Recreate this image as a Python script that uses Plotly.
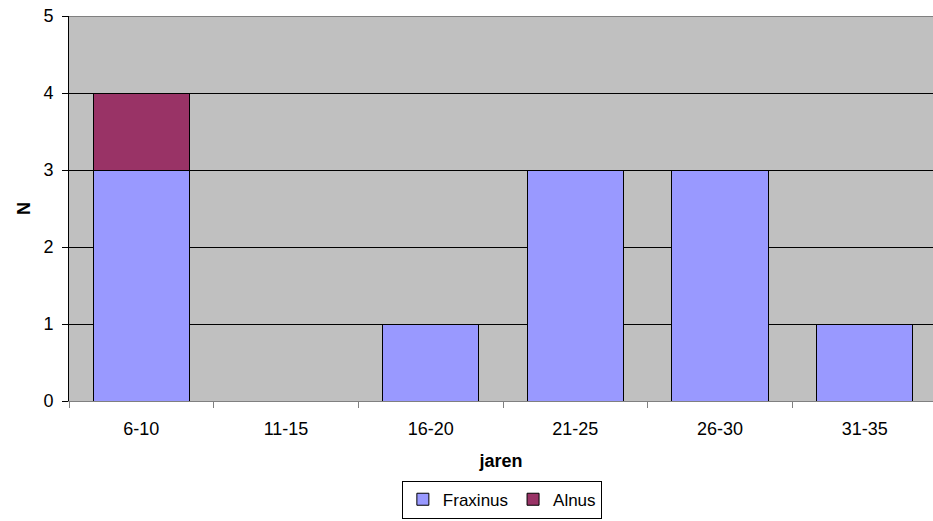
import plotly.graph_objects as go

# Age classes (years) and counts per genus
age_classes = ["6-10", "11-15", "16-20", "21-25", "26-30", "31-35"]
fraxinus = [3, 0, 1, 3, 3, 1]
alnus = [1, 0, 0, 0, 0, 0]
y_ticks = [0, 1, 2, 3, 4, 5]

font_family = "Liberation Sans, Arial, sans-serif"

fig = go.Figure()
fig.add_trace(go.Bar(
    name="Fraxinus", x=age_classes, y=fraxinus,
    marker=dict(color="#9999FF", line=dict(color="#000000", width=1)),
))
fig.add_trace(go.Bar(
    name="Alnus", x=age_classes, y=alnus,
    marker=dict(color="#993366", line=dict(color="#000000", width=1)),
))

# Plot area extends past the right window edge, so the last category is cut off
fig.update_layout(
    width=933, height=521,
    margin=dict(l=69, r=0, t=16, b=120, autoexpand=False),
    barmode="stack",
    bargap=0.335,
    paper_bgcolor="#FFFFFF",
    plot_bgcolor="#C0C0C0",
    font=dict(family=font_family, size=18, color="#000000"),
    showlegend=True,
    legend=dict(
        orientation="h",
        traceorder="normal",
        x=0.501, xanchor="center",
        y=-0.207, yanchor="top",
        bordercolor="#000000", borderwidth=1,
        bgcolor="#FFFFFF",
        font=dict(size=17),
        itemwidth=30,
        tracegroupgap=0,
    ),
    xaxis=dict(
        type="category",
        range=[-0.5, 5.472],
        tickson="boundaries",
        ticks="outside", ticklen=6, tickcolor="#808080",
        showline=True, linecolor="#808080", linewidth=1,
        showgrid=False,
        tickfont=dict(size=18),
        ticklabelstandoff=11,
        title=dict(text="<b>jaren</b>", font=dict(size=18), standoff=16),
    ),
    yaxis=dict(
        range=[0, 5],
        tickvals=y_ticks,
        ticks="outside", ticklen=6, tickcolor="#000000",
        showline=True, linecolor="#000000", linewidth=1,
        showgrid=True, gridcolor="#000000", gridwidth=1,
        zeroline=False,
        tickfont=dict(size=18),
        ticklabelstandoff=5,
        title=dict(text="<b>N</b>", font=dict(size=18), standoff=8),
    ),
    shapes=[dict(
        type="line", xref="paper", yref="y",
        x0=0, x1=1, y0=5, y1=5,
        line=dict(color="#808080", width=2),
    )],
)

fig.write_html("out.html")
